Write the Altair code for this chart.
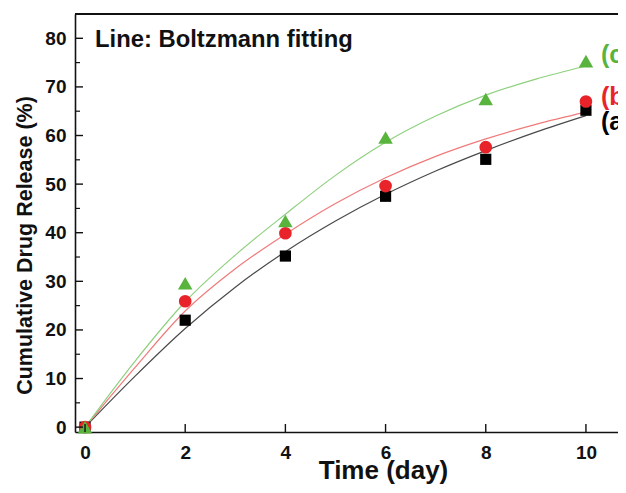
import altair as alt
import pandas as pd

# ---- data ----
days = [0, 2, 4, 6, 8, 10]
release_a = [0.0, 22.0, 35.2, 47.5, 55.1, 65.2]
release_b = [0.0, 25.9, 39.9, 49.6, 57.6, 67.0]
release_c = [0.0, 29.6, 42.4, 59.6, 67.5, 75.3]

fit_days = [0, 1, 2, 3, 4, 5, 6, 7, 8, 9, 10]
fit_a = [0.0, 10.5, 20.3, 28.8, 36.1, 42.4, 47.9, 52.7, 56.9, 60.7, 64.1]
fit_b = [0.0, 12.3, 23.9, 32.6, 39.7, 46.0, 51.3, 55.7, 59.3, 62.3, 64.8]
fit_c = [0.0, 13.6, 25.8, 35.4, 43.8, 51.8, 58.6, 64.0, 68.3, 71.6, 74.3]

series_names = ["(a)", "(b)", "(c)"]
label_x = [10.3, 10.3, 10.3]
label_y = [62.7, 67.9, 76.5]

x_ticks = [0, 2, 4, 6, 8, 10]
y_ticks = [0, 10, 20, 30, 40, 50, 60, 70, 80]
y_minor = [5, 15, 25, 35, 45, 55, 65, 75]

annotation = "Line: Boltzmann fitting"
ann_x, ann_y = 0.2, 79.6

# ---- styling ----
point_colors = ["#000000", "#e8242a", "#58b43c"]
line_colors = ["#4a4a4a", "#f07a7a", "#8fd07f"]
shapes = ["square", "circle", "triangle-up"]
sizes = [125, 160, 210]
FONT = "Liberation Sans"

W, H = 543, 418
xs = alt.Scale(domain=[-0.2, 10.64], nice=False, zero=False)
ys = alt.Scale(domain=[-1, 85], nice=False, zero=False)

xaxis = alt.Axis(values=x_ticks, ticks=False, grid=False, domain=True,
                 domainColor="#111111", domainWidth=1.6,
                 labelFontSize=19, labelFontWeight="bold", labelFont=FONT,
                 labelColor="#111111", labelPadding=11,
                 title="Time (day)", titleFontSize=26, titleFontWeight="bold",
                 titleFont=FONT, titleColor="#111111",
                 titleX=308, titleY=46, titleBaseline="alphabetic",
                 titleAlign="center", format="d")
yaxis = alt.Axis(values=y_ticks, ticks=False, grid=False, domain=True,
                 domainColor="#111111", domainWidth=1.6,
                 labelFontSize=19, labelFontWeight="bold", labelFont=FONT,
                 labelColor="#111111", labelPadding=9,
                 title="Cumulative Drug Release (%)", titleFontSize=21.5,
                 titleFontWeight="bold", titleFont=FONT,
                 titleColor="#111111", titleX=-44, titleY=231,
                 titleAngle=-90, titleBaseline="alphabetic",
                 titleAlign="center", format="d")

layers = []

fits = [fit_a, fit_b, fit_c]
for i, f in enumerate(fits):
    df = pd.DataFrame({"t": fit_days, "v": f})
    layers.append(
        alt.Chart(df).mark_line(color=line_colors[i], strokeWidth=1.2,
                                interpolate="monotone").encode(
            x=alt.X("t:Q", scale=xs, axis=xaxis),
            y=alt.Y("v:Q", scale=ys, axis=yaxis),
        )
    )

pts = [release_a, release_b, release_c]
for i, p in enumerate(pts):
    df = pd.DataFrame({"t": days, "v": p})
    layers.append(
        alt.Chart(df).mark_point(shape=shapes[i], filled=True, opacity=1,
                                 color=point_colors[i], size=sizes[i]).encode(
            x=alt.X("t:Q", scale=xs, axis=xaxis),
            y=alt.Y("v:Q", scale=ys, axis=yaxis),
        )
    )

# series labels
for i in range(3):
    df = pd.DataFrame({"t": [label_x[i]], "v": [label_y[i]], "s": [series_names[i]]})
    layers.append(
        alt.Chart(df).mark_text(align="left", baseline="middle", fontSize=25,
                                fontWeight="bold", font=FONT,
                                color=point_colors[i]).encode(
            x=alt.X("t:Q", scale=xs, axis=xaxis),
            y=alt.Y("v:Q", scale=ys, axis=yaxis),
            text="s:N",
        )
    )

ann_df = pd.DataFrame({"t": [ann_x], "v": [ann_y], "s": [annotation]})
layers.append(
    alt.Chart(ann_df).mark_text(align="left", baseline="middle", fontSize=23.8,
                                fontWeight="bold", font=FONT,
                                color="#111111").encode(
        x=alt.X("t:Q", scale=xs, axis=xaxis),
        y=alt.Y("v:Q", scale=ys, axis=yaxis),
        text="s:N",
    )
)

# inward ticks
ytk = pd.DataFrame({"v": y_ticks})
layers.append(alt.Chart(ytk).mark_rule(color="#111111", strokeWidth=1.4).encode(
    y=alt.Y("v:Q", scale=ys, axis=yaxis), x=alt.value(0), x2=alt.value(8)))
ymn = pd.DataFrame({"v": y_minor})
layers.append(alt.Chart(ymn).mark_rule(color="#111111", strokeWidth=1.2).encode(
    y=alt.Y("v:Q", scale=ys, axis=yaxis), x=alt.value(0), x2=alt.value(5)))
xtk = pd.DataFrame({"v": x_ticks})
layers.append(alt.Chart(xtk).mark_rule(color="#111111", strokeWidth=1.4).encode(
    x=alt.X("v:Q", scale=xs, axis=xaxis), y=alt.value(H), y2=alt.value(H - 8)))

# top frame line
top_df = pd.DataFrame({"v": [85]})
layers.append(alt.Chart(top_df).mark_rule(color="#111111", strokeWidth=2).encode(
    y=alt.Y("v:Q", scale=ys, axis=yaxis)))

chart = alt.layer(*layers).properties(
    width=W, height=H,
    autosize=alt.AutoSizeParams(type="none"),
    padding={"left": 67, "top": 6, "right": 0, "bottom": 53},
    background="white",
).configure_view(strokeWidth=0)

chart.save("out.html", embed_options={"renderer": "svg", "actions": False})
